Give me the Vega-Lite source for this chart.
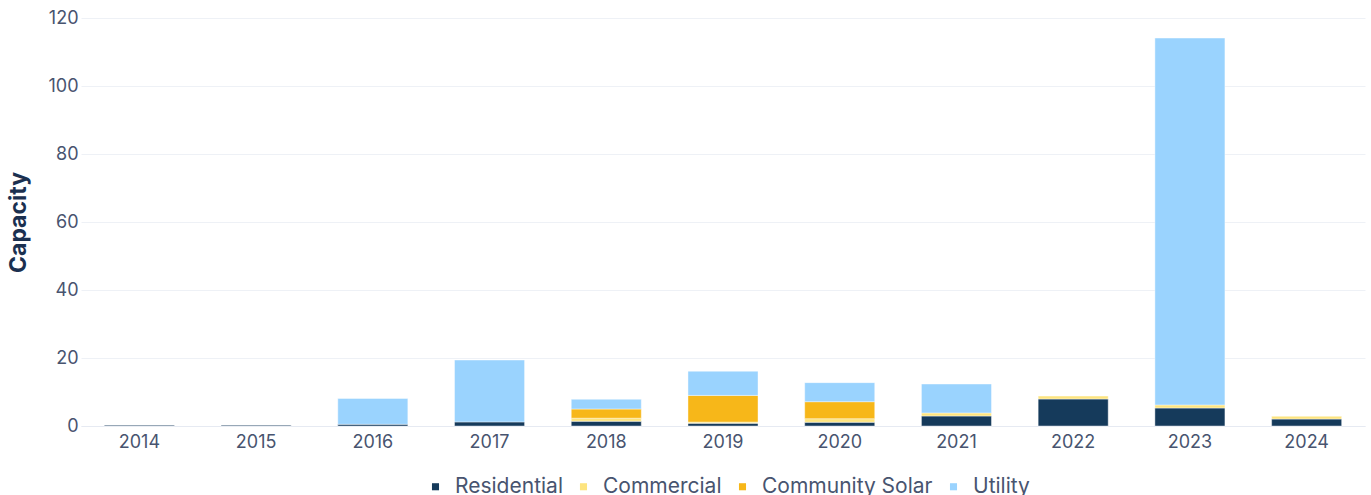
{
  "$schema": "https://vega.github.io/schema/vega-lite/v6.json",
  "width": 1284,
  "height": 408,
  "autosize": {"type": "none"},
  "padding": {"left": 81, "top": 18, "right": 6, "bottom": 69},
  "background": "white",
  "data": {
    "values": [
      {"year": "2014", "type": "Residential", "order": 1, "value": 0.25},
      {"year": "2015", "type": "Residential", "order": 1, "value": 0.25},
      {"year": "2016", "type": "Residential", "order": 1, "value": 0.5},
      {"year": "2016", "type": "Utility", "order": 4, "value": 7.6},
      {"year": "2017", "type": "Residential", "order": 1, "value": 1.2},
      {"year": "2017", "type": "Utility", "order": 4, "value": 18.2},
      {"year": "2018", "type": "Residential", "order": 1, "value": 1.4},
      {"year": "2018", "type": "Commercial", "order": 2, "value": 0.9},
      {"year": "2018", "type": "Community Solar", "order": 3, "value": 2.7},
      {"year": "2018", "type": "Utility", "order": 4, "value": 2.85},
      {"year": "2019", "type": "Residential", "order": 1, "value": 0.8},
      {"year": "2019", "type": "Commercial", "order": 2, "value": 0.35},
      {"year": "2019", "type": "Community Solar", "order": 3, "value": 7.85},
      {"year": "2019", "type": "Utility", "order": 4, "value": 7.1},
      {"year": "2020", "type": "Residential", "order": 1, "value": 1.1},
      {"year": "2020", "type": "Commercial", "order": 2, "value": 1.05},
      {"year": "2020", "type": "Community Solar", "order": 3, "value": 5.0},
      {"year": "2020", "type": "Utility", "order": 4, "value": 5.6},
      {"year": "2021", "type": "Residential", "order": 1, "value": 2.95},
      {"year": "2021", "type": "Commercial", "order": 2, "value": 0.9},
      {"year": "2021", "type": "Utility", "order": 4, "value": 8.5},
      {"year": "2022", "type": "Residential", "order": 1, "value": 7.95},
      {"year": "2022", "type": "Commercial", "order": 2, "value": 0.85},
      {"year": "2023", "type": "Residential", "order": 1, "value": 5.3},
      {"year": "2023", "type": "Commercial", "order": 2, "value": 0.9},
      {"year": "2023", "type": "Utility", "order": 4, "value": 107.9},
      {"year": "2024", "type": "Residential", "order": 1, "value": 2.05},
      {"year": "2024", "type": "Commercial", "order": 2, "value": 0.8}
    ]
  },
  "mark": {"type": "bar", "stroke": "white", "strokeWidth": 0.6, "strokeOpacity": 0.7},
  "encoding": {
    "x": {
      "field": "year", "type": "nominal",
      "scale": {"paddingInner": 0.4, "paddingOuter": 0.2},
      "axis": {
        "title": null, "labelAngle": 0, "ticks": false,
        "domainColor": "#e6eaf2", "labelPadding": 7,
        "labelFont": "Inter", "labelFontSize": 18, "labelColor": "#48546f"
      }
    },
    "y": {
      "field": "value", "type": "quantitative", "aggregate": "sum", "stack": "zero",
      "scale": {"domain": [0, 120]},
      "axis": {
        "title": "Capacity", "tickCount": 6, "ticks": false, "domain": false,
        "gridColor": "#eef1f6", "labelPadding": 3,
        "labelFont": "Inter", "labelFontSize": 18, "labelColor": "#48546f",
        "titleFont": "Inter", "titleFontSize": 23, "titleFontWeight": "bold", "titleColor": "#1b3050",
        "titlePadding": 17
      }
    },
    "color": {
      "field": "type", "type": "nominal",
      "scale": {
        "domain": ["Residential", "Commercial", "Community Solar", "Utility"],
        "range": ["#153a5b", "#fde47f", "#f7b719", "#9ad3fe"]
      },
      "legend": {
        "title": null, "orient": "none", "direction": "horizontal",
        "legendX": 344, "legendY": 458,
        "symbolType": "square", "symbolSize": 50, "symbolStrokeWidth": 0,
        "labelFont": "Inter", "labelFontSize": 21, "labelColor": "#48546f",
        "labelLimit": 400,
        "columnPadding": 10, "symbolOffset": 0, "labelOffset": 9
      }
    },
    "order": {"field": "order", "type": "quantitative"}
  },
  "config": {"view": {"stroke": null}}
}
